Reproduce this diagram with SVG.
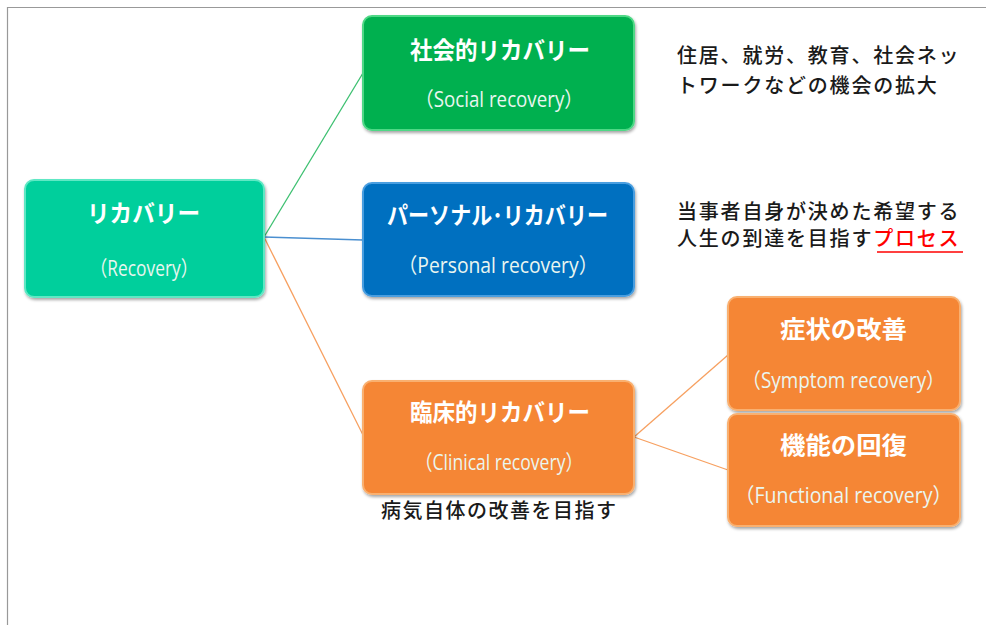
<svg xmlns="http://www.w3.org/2000/svg" width="986" height="625" viewBox="0 0 986 625">
<style>
.t{font-family:"Noto Sans CJK JP","Liberation Sans",sans-serif;font-weight:bold;fill:#fff;text-anchor:middle;font-size:24px}
.s{font-family:"Open Sans","Noto Sans CJK JP",sans-serif;fill:#eaf6f0;text-anchor:middle;font-size:21px}
.n{font-family:"Noto Sans CJK JP",sans-serif;fill:#1a1a1a;font-size:20px;letter-spacing:1.8px;font-weight:500}
.c{fill:none;stroke-width:1.3}
</style>
<defs>
<filter id="sh" x="-10%" y="-10%" width="125%" height="130%">
<feDropShadow dx="1" dy="2" stdDeviation="1.5" flood-color="#000" flood-opacity="0.35"/>
</filter>
</defs>
<rect x="0" y="0" width="986" height="625" fill="#fff"/>
<path d="M7.5 625V7.5H986" fill="none" stroke="#999" stroke-width="1.2"/>
<g id="connectors">
<line class="c" x1="264" y1="237" x2="363" y2="73" stroke="#3cc070"/>
<line class="c" x1="264" y1="237" x2="363" y2="240" stroke="#4a8fd0"/>
<line class="c" x1="264" y1="237" x2="363" y2="435" stroke="#f7a060"/>
<line class="c" x1="634" y1="437" x2="728" y2="355" stroke="#f7a060"/>
<line class="c" x1="634" y1="437" x2="728" y2="470" stroke="#f7a060"/>
</g>
<g id="recovery">
<rect x="25" y="180" width="239" height="117" rx="9" fill="#03cf9c" stroke="#5ee8c4" stroke-width="2" filter="url(#sh)"/>
<text class="t" x="143.5" y="222" textLength="113" lengthAdjust="spacingAndGlyphs">リカバリー</text>
<text class="s" x="144" y="276" textLength="108" lengthAdjust="spacingAndGlyphs">（Recovery）</text>
</g>
<g id="social">
<rect x="363" y="16" width="271" height="114" rx="9" fill="#00b04f" stroke="#4fd886" stroke-width="2" filter="url(#sh)"/>
<text class="t" x="500" y="59" textLength="180" lengthAdjust="spacingAndGlyphs">社会的リカバリー</text>
<text class="s" x="499" y="107" textLength="168" lengthAdjust="spacingAndGlyphs">（Social recovery）</text>
</g>
<g id="personal">
<rect x="363" y="183" width="271" height="113" rx="9" fill="#0070c0" stroke="#4a9ee0" stroke-width="2" filter="url(#sh)"/>
<text class="t" x="497.5" y="224" textLength="221" lengthAdjust="spacingAndGlyphs">パーソナル･リカバリー</text>
<text class="s" x="498" y="273" textLength="200" lengthAdjust="spacingAndGlyphs">（Personal recovery）</text>
</g>
<g id="clinical">
<rect x="363" y="381" width="271" height="113" rx="9" fill="#f58635" stroke="#f9b070" stroke-width="2" filter="url(#sh)"/>
<text class="t" x="500" y="421" textLength="180" lengthAdjust="spacingAndGlyphs">臨床的リカバリー</text>
<text class="s" x="499" y="470" textLength="168" lengthAdjust="spacingAndGlyphs">（Clinical recovery）</text>
</g>
<g id="symptom">
<rect x="728" y="297" width="232" height="113" rx="9" fill="#f58635" stroke="#f9b070" stroke-width="2" filter="url(#sh)"/>
<text class="t" x="843.5" y="338" textLength="127" lengthAdjust="spacingAndGlyphs">症状の改善</text>
<text class="s" x="843.5" y="388" textLength="203" lengthAdjust="spacingAndGlyphs">（Symptom recovery）</text>
</g>
<g id="functional">
<rect x="728" y="414" width="232" height="112" rx="9" fill="#f58635" stroke="#f9b070" stroke-width="2" filter="url(#sh)"/>
<text class="t" x="843.5" y="454" textLength="127" lengthAdjust="spacingAndGlyphs">機能の回復</text>
<text class="s" x="843.5" y="503" textLength="217" lengthAdjust="spacingAndGlyphs">（Functional recovery）</text>
</g>
<g id="notes">
<text class="n" x="677" y="63">住居、就労、教育、社会ネッ</text>
<text class="n" x="677" y="93">トワークなどの機会の拡大</text>
<text class="n" x="677" y="219">当事者自身が決めた希望する</text>
<text class="n" x="677" y="246">人生の到達を目指す<tspan fill="#ff0000">プロセス</tspan></text>
<line x1="877" y1="252" x2="963" y2="252" stroke="#ff0000" stroke-width="1.3"/>
<text class="n" x="381" y="518" style="letter-spacing:1.5px">病気自体の改善を目指す</text>
</g>
</svg>
